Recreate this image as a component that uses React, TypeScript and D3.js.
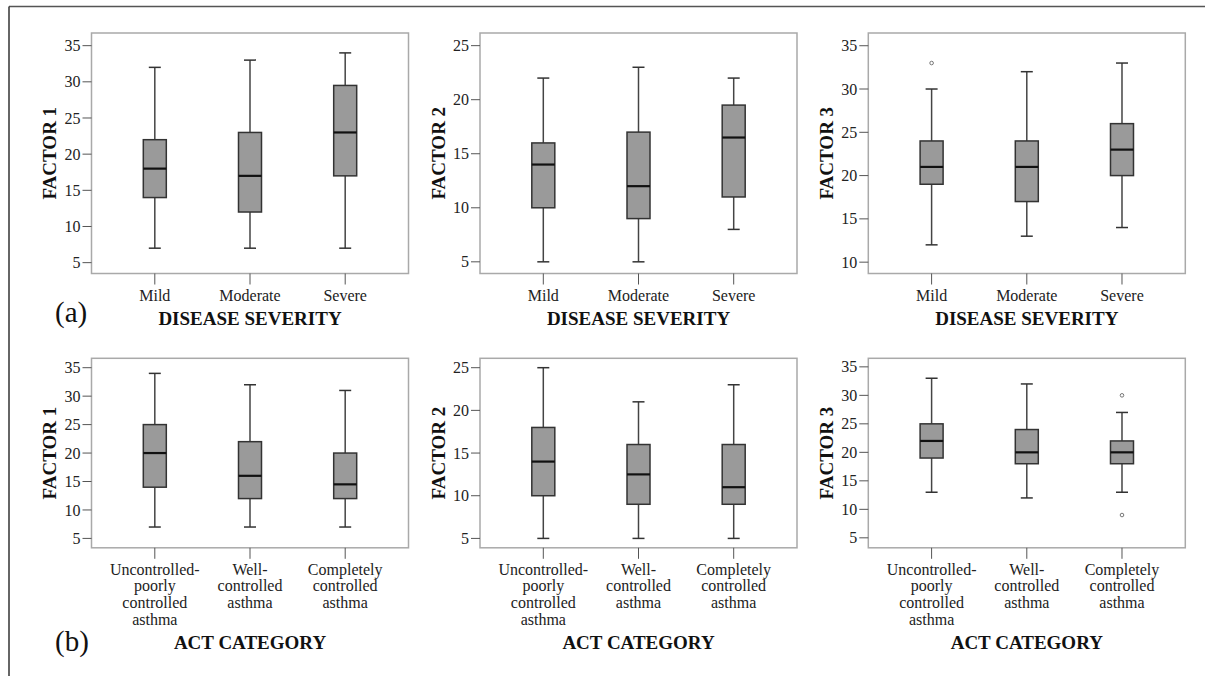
import React from 'react';
import * as d3 from 'd3';

// categories
const severityCats = ['Mild', 'Moderate', 'Severe'];
const actCats = ['Uncontrolled-poorly controlled asthma', 'Well-controlled asthma', 'Completely controlled asthma'];
const actLabelLines = [
  ['Uncontrolled-', 'poorly', 'controlled', 'asthma'],
  ['Well-', 'controlled', 'asthma'],
  ['Completely', 'controlled', 'asthma'],
];

// box stats: [min, q1, median, q3, max]
const factor1Severity = [[7, 14, 18, 22, 32], [7, 12, 17, 23, 33], [7, 17, 23, 29.5, 34]];
const factor2Severity = [[5, 10, 14, 16, 22], [5, 9, 12, 17, 23], [8, 11, 16.5, 19.5, 22]];
const factor3Severity = [[12, 19, 21, 24, 30], [13, 17, 21, 24, 32], [14, 20, 23, 26, 33]];
const factor1Act = [[7, 14, 20, 25, 34], [7, 12, 16, 22, 32], [7, 12, 14.5, 20, 31]];
const factor2Act = [[5, 10, 14, 18, 25], [5, 9, 12.5, 16, 21], [5, 9, 11, 16, 23]];
const factor3Act = [[13, 19, 22, 25, 33], [12, 18, 20, 24, 32], [13, 18, 20, 22, 27]];

// outliers per category
const factor3SeverityOut = [[33], [], []];
const factor3ActOut = [[], [], [30, 9]];
const noOut = [[], [], []];

// y axis ticks and visible ranges
const ticks5to35 = [5, 10, 15, 20, 25, 30, 35];
const ticks5to25 = [5, 10, 15, 20, 25];
const ticks10to35 = [10, 15, 20, 25, 30, 35];
const domainF1Sev = [3.5, 36.75];
const domainF2Sev = [3.92, 26.17];
const domainF3Sev = [8.69, 36.47];
const domainF1Act = [3.35, 36.65];
const domainF2Act = [3.9, 26.1];
const domainF3Act = [3.25, 36.5];

const FONT = 'Liberation Serif, Tinos, DejaVu Serif, serif';

type PanelProps = {
  x: number; y: number; w: number; h: number;
  cats: string[];
  labels: string[][];
  stats: number[][];
  outliers: number[][];
  ticks: number[];
  domain: number[];
  yTitle: string;
  xTitle: string;
  xTitleY: number;
};

const Panel = ({ x, y, w, h, cats, labels, stats, outliers, ticks, domain, yTitle, xTitle, xTitleY }: PanelProps) => {
  const xs = d3.scalePoint<string>().domain(cats).range([0, w]).padding(0.665);
  const ys = d3.scaleLinear().domain(domain).range([h, 0]);
  const boxW = 23;
  const capW = 12;
  return (
    <g transform={`translate(${x},${y})`}>
      <rect x={0} y={0} width={w} height={h} fill="#fff" stroke="#a9a9a9" strokeWidth={1.5} />
      {ticks.map(t => (
        <g key={t} transform={`translate(0,${ys(t)})`}>
          <line x1={-9} x2={0} stroke="#555" strokeWidth={1} />
          <text x={-11} dy="0.35em" textAnchor="end" style={{ fontFamily: FONT, fontSize: 16 }} fill="#222">{t}</text>
        </g>
      ))}
      {cats.map((c, i) => {
        const cx = xs(c)!;
        const [mn, q1, md, q3, mx] = stats[i];
        return (
          <g key={c}>
            <line x1={cx} x2={cx} y1={h} y2={h + 11} stroke="#555" strokeWidth={1} />
            {labels[i].map((l, j) => (
              <text key={j} x={cx} y={h + 27 + j * 16.7} textAnchor="middle" style={{ fontFamily: FONT, fontSize: 16 }} fill="#222">{l}</text>
            ))}
            <line x1={cx} x2={cx} y1={ys(mx)} y2={ys(q3)} stroke="#444" strokeWidth={1.5} />
            <line x1={cx} x2={cx} y1={ys(q1)} y2={ys(mn)} stroke="#444" strokeWidth={1.5} />
            <line x1={cx - capW / 2} x2={cx + capW / 2} y1={ys(mx)} y2={ys(mx)} stroke="#333" strokeWidth={1.5} />
            <line x1={cx - capW / 2} x2={cx + capW / 2} y1={ys(mn)} y2={ys(mn)} stroke="#333" strokeWidth={1.5} />
            <rect x={cx - boxW / 2} y={ys(q3)} width={boxW} height={ys(q1) - ys(q3)} fill="#9a9a9a" stroke="#333" strokeWidth={1.5} />
            <line x1={cx - boxW / 2} x2={cx + boxW / 2} y1={ys(md)} y2={ys(md)} stroke="#111" strokeWidth={2.2} />
            {outliers[i].map((o, k) => (
              <circle key={k} cx={cx} cy={ys(o)} r={1.8} fill="none" stroke="#777" strokeWidth={1} />
            ))}
          </g>
        );
      })}
      <text transform={`translate(${-42},${h / 2}) rotate(-90)`} dy="0.35em" textAnchor="middle" style={{ fontFamily: FONT, fontSize: 19, fontWeight: 'bold' }} fill="#111">{yTitle}</text>
      <text x={w / 2} y={xTitleY} textAnchor="middle" style={{ fontFamily: FONT, fontSize: 19, fontWeight: 'bold' }} fill="#111">{xTitle}</text>
    </g>
  );
};

const severityLabels = severityCats.map(c => [c]);

export default function App() {
  const cols = [91.5, 480, 868.3];
  const w = 317;
  const topY = 33, topH = 240.5;
  const botY = 358.3, botH = 189.5;
  return (
    <svg width={1205} height={676} style={{ position: 'absolute', left: 0, top: 0, background: '#fff' }}>
      <rect width={1205} height={676} fill="#fff" />
      <line x1={9} x2={1205} y1={6.5} y2={6.5} stroke="#555" strokeWidth={1.5} />
      <line x1={9} x2={9} y1={6.5} y2={676} stroke="#333" strokeWidth={1.5} />

      <Panel x={cols[0]} y={topY} w={w} h={topH} cats={severityCats} labels={severityLabels} stats={factor1Severity} outliers={noOut} ticks={ticks5to35} domain={domainF1Sev} yTitle="FACTOR 1" xTitle="DISEASE SEVERITY" xTitleY={292} />
      <Panel x={cols[1]} y={topY} w={w} h={topH} cats={severityCats} labels={severityLabels} stats={factor2Severity} outliers={noOut} ticks={ticks5to25} domain={domainF2Sev} yTitle="FACTOR 2" xTitle="DISEASE SEVERITY" xTitleY={292} />
      <Panel x={cols[2]} y={topY} w={w} h={topH} cats={severityCats} labels={severityLabels} stats={factor3Severity} outliers={factor3SeverityOut} ticks={ticks10to35} domain={domainF3Sev} yTitle="FACTOR 3" xTitle="DISEASE SEVERITY" xTitleY={292} />

      <Panel x={cols[0]} y={botY} w={w} h={botH} cats={actCats} labels={actLabelLines} stats={factor1Act} outliers={noOut} ticks={ticks5to35} domain={domainF1Act} yTitle="FACTOR 1" xTitle="ACT CATEGORY" xTitleY={291} />
      <Panel x={cols[1]} y={botY} w={w} h={botH} cats={actCats} labels={actLabelLines} stats={factor2Act} outliers={noOut} ticks={ticks5to25} domain={domainF2Act} yTitle="FACTOR 2" xTitle="ACT CATEGORY" xTitleY={291} />
      <Panel x={cols[2]} y={botY} w={w} h={botH} cats={actCats} labels={actLabelLines} stats={factor3Act} outliers={factor3ActOut} ticks={ticks5to35} domain={domainF3Act} yTitle="FACTOR 3" xTitle="ACT CATEGORY" xTitleY={291} />

      <text x={55} y={322} style={{ fontFamily: FONT, fontSize: 29 }} fill="#111">(a)</text>
      <text x={55} y={651} style={{ fontFamily: FONT, fontSize: 29 }} fill="#111">(b)</text>
    </svg>
  );
}
